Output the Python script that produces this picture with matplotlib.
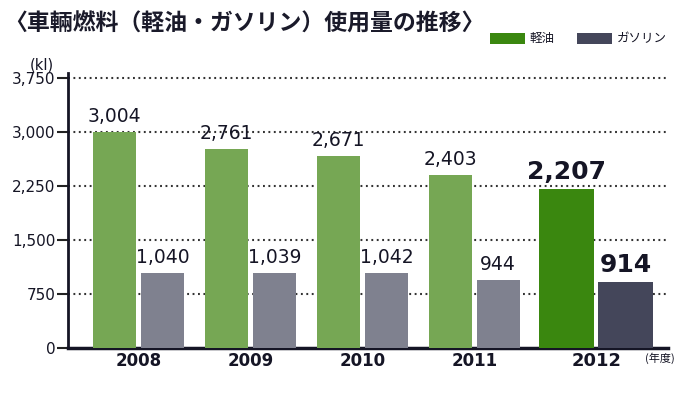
import matplotlib
matplotlib.use('Agg')
import matplotlib.pyplot as plt
from matplotlib.patches import Rectangle

plt.rcParams['font.family'] = ['Noto Sans CJK JP', 'DejaVu Sans']
NUM = ['DejaVu Sans']

# Data
years = ['2008', '2009', '2010', '2011', '2012']
diesel = [3004, 2761, 2671, 2403, 2207]
gasoline = [1040, 1039, 1042, 944, 914]
yticks = [0, 750, 1500, 2250, 3000, 3750]

# Colors
green_old = '#76a754'
gray_old = '#7f818f'
green_new = '#3a870f'
gray_new = '#44465a'
ink = '#151525'

W, H = 683, 394
fig = plt.figure(figsize=(W / 100, H / 100), dpi=100)
fig.patch.set_facecolor('white')

# axes in pixel coordinates
x0, x1 = 68, 668
y0, ytop = 348, 73
ax = fig.add_axes([x0 / W, (H - y0) / H, (x1 - x0) / W, (y0 - ytop) / H])

ymax = (y0 - ytop) / 270 * 3750
ax.set_ylim(0, ymax)
ax.set_xlim(-0.63, 4.73)

pos = [0, 1, 2, 3, 4.09]
for i, yr in enumerate(years):
    last = (i == len(years) - 1)
    w = 0.49 if last else 0.384
    off = 0.263 if last else 0.214
    gc = green_new if last else green_old
    dc = gray_new if last else gray_old
    ax.bar(pos[i] - off, diesel[i], w, color=gc, zorder=3)
    ax.bar(pos[i] + off, gasoline[i], w, color=dc, zorder=3)
    if last:
        kw = dict(ha='center', va='bottom', fontsize=18, fontweight='bold', color=ink, family=NUM)
        ax.text(pos[i] - off, diesel[i] + 70, f'{diesel[i]:,}', **kw)
        ax.text(pos[i] + off, gasoline[i] + 70, f'{gasoline[i]:,}', **kw)
    else:
        kw = dict(ha='center', va='bottom', fontsize=13.5, color=ink, family=NUM)
        ax.text(pos[i] - off, diesel[i] + 80, f'{diesel[i]:,}', **kw)
        ax.text(pos[i] + off, gasoline[i] + 80, f'{gasoline[i]:,}', **kw)

ax.set_yticks(yticks)
ax.set_yticklabels([f'{v:,}' for v in yticks], fontsize=11, color=ink, family=NUM)
ax.tick_params(axis='y', length=8, width=1.5, pad=1, color='#222222')
ax.set_xticks(pos)
ax.set_xticklabels(years, fontsize=12, fontweight='bold', color=ink, family=NUM)
ax.get_xticklabels()[-1].set_fontsize(13)
ax.tick_params(axis='x', length=0, pad=3)

for v in yticks[1:]:
    ax.axhline(v, color='#333333', linestyle=(0, (0.9, 1.7)), linewidth=1.5, zorder=1)

for s in ['top', 'right']:
    ax.spines[s].set_visible(False)
ax.spines['left'].set_linewidth(2)
ax.spines['bottom'].set_linewidth(2.5)
ax.spines['left'].set_color(ink)
ax.spines['bottom'].set_color(ink)
ax.set_facecolor('none')

# title and annotations
fig.text(4 / W, 1 - 24 / H, '〈車輛燃料（軽油・ガソリン）使用量の推移〉', fontsize=16.5,
         fontweight='bold', color='#1a1a2a', va='center', ha='left')
fig.text(42 / W, 1 - 65 / H, '(kl)', fontsize=10.5, color=ink, ha='center', va='center', family=NUM)
fig.text(660 / W, 1 - 358 / H, '(年度)', fontsize=8, color=ink, ha='center', va='center')

# legend
fig.patches.append(Rectangle((490 / W, 1 - 44 / H), 35 / W, 11 / H, transform=fig.transFigure,
                             facecolor=green_new, edgecolor='none'))
fig.text(530 / W, 1 - 38.5 / H, '軽油', fontsize=9, color=ink, va='center', ha='left')
fig.patches.append(Rectangle((577 / W, 1 - 44 / H), 35 / W, 11 / H, transform=fig.transFigure,
                             facecolor=gray_new, edgecolor='none'))
fig.text(617 / W, 1 - 38.5 / H, 'ガソリン', fontsize=9, color=ink, va='center', ha='left')

plt.savefig('out.png', dpi=100)
